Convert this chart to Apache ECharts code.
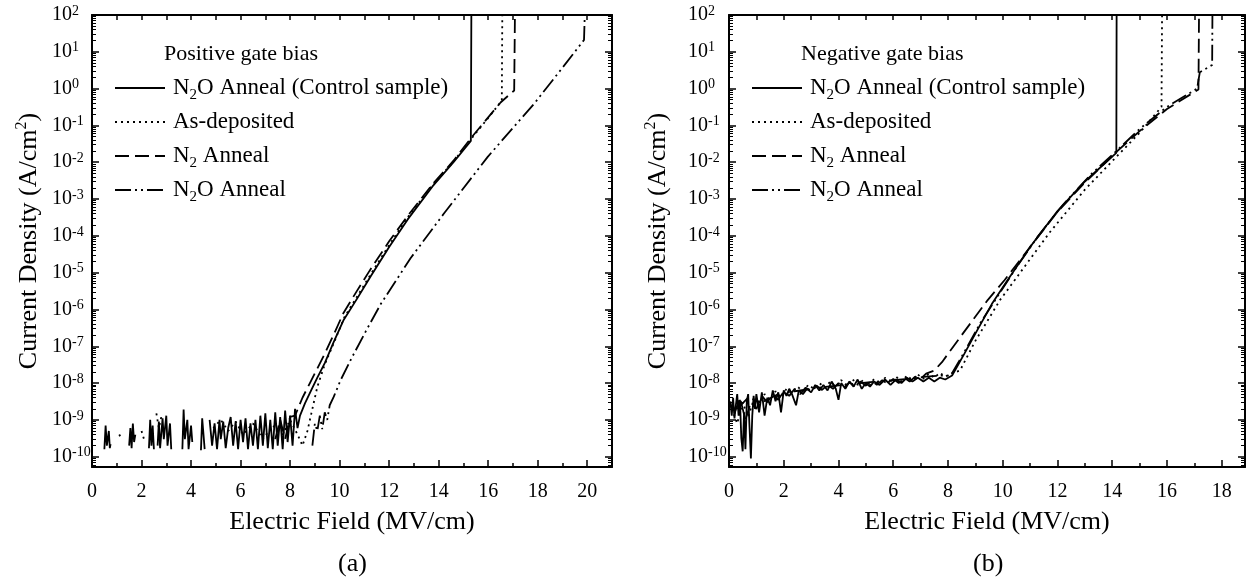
<!DOCTYPE html>
<html>
<head>
    <meta charset="utf-8">
    <title>Current Density vs Electric Field</title>
    <script src="https://cdn.jsdelivr.net/npm/echarts@6/dist/echarts.min.js"></script>
    <style>
        html, body { margin: 0; padding: 0; background: #fff; }
        #main { width: 1248px; height: 582px; }
    </style>
</head>
<body>
    <main id="main"></main>
    <script>
        var FONT = '"Liberation Serif", "Times New Roman", serif';

        var seriesNames = ['N2O Anneal (Control sample)', 'As-deposited', 'N2 Anneal', 'N2O Anneal'];
        var lineTypes = ['solid', [2, 4], [14, 6], [16, 4, 2, 4, 2, 4]];
        var panelTitles = ['Positive gate bias', 'Negative gate bias'];
        var panelTags = ['(a)', '(b)'];
        var xMax = [21, 18.85];
        var xLabelsA = [0, 2, 4, 6, 8, 10, 12, 14, 16, 18, 20];
        var xLabelsB = [0, 2, 4, 6, 8, 10, 12, 14, 16, 18];
        var yDecades = [-10, -9, -8, -7, -6, -5, -4, -3, -2, -1, 0, 1, 2];
        var yMin = -10.28, yMax = 2;

        // (a) positive gate bias, [E (MV/cm), J (A/cm2)], null = gap
        var posControl = [
            [0.5, 1.6e-10], [0.55, 7e-10], [0.6, 2e-10], [0.68, 5e-10], [0.72, 1.7e-10], [0.75, 2.2e-10], [0.8, null],
            [1.5, 2e-10], [1.55, 6e-10], [1.6, 1.7e-10], [1.65, 8e-10], [1.7, 2.5e-10], [1.75, 4e-10], [1.8, null],
            [2.3, 1.7e-10], [2.35, 1e-9], [2.4, 2e-10], [2.45, 7e-10], [2.5, 1.6e-10], [2.55, null],
            [2.65, 2e-10], [2.7, 9e-10], [2.75, 1.7e-10], [2.85, 1.1e-9], [2.9, 3e-10], [3.0, 1.3e-9], [3.05, 2e-10],
            [3.15, 8e-10], [3.2, 1.6e-10], [3.3, null],
            [3.65, 1.6e-10], [3.7, 1.9e-9], [3.75, 3e-10], [3.85, 1e-9], [3.9, 1.6e-10], [4.0, 7e-10], [4.05, 2.5e-10], [4.1, null],
            [4.4, 1.5e-10], [4.45, 1.1e-9], [4.55, 1.6e-10], [4.6, null],
            [4.75, 1e-9], [4.85, 2e-10], [4.95, 8e-10], [5.05, 1.6e-10], [5.15, 1e-9], [5.2, 3e-10], [5.3, 9e-10],
            [5.4, 1.7e-10], [5.5, 6e-10], [5.6, 1.2e-9], [5.7, 2e-10], [5.8, 9e-10], [5.9, 1.6e-10], [6.0, 1e-9],
            [6.1, 2.5e-10], [6.2, 1.1e-9], [6.3, 1.6e-10], [6.4, 8e-10], [6.5, 2e-10], [6.6, 1e-9], [6.7, 1.6e-10],
            [6.8, 1.3e-9], [6.9, 2e-10], [7.0, 1.5e-9], [7.1, 1.7e-10], [7.2, 1e-9], [7.3, 1.6e-10], [7.4, 1.6e-9],
            [7.5, 2e-10], [7.6, 1.2e-9], [7.7, 1.6e-10], [7.8, 1.8e-9], [7.9, 2.5e-10], [8.0, 1.3e-9], [8.1, 2e-10],
            [8.2, 2e-9], [8.3, 6e-10], [8.4, 1.3e-9], [8.6, 2.8e-9], [8.85, 6.3e-9], [9.1, 1.4e-8], [9.4, 3.5e-8],
            [9.75, 1.26e-7], [10.15, 5e-7], [10.75, 2.2e-6], [11.25, 7.9e-6], [12.0, 5e-5], [12.75, 2.8e-4],
            [13.75, 2.2e-3], [14.6, 1e-2], [15.3, 3.8e-2], [15.32, 100]
        ];
        var posAsDep = [
            [1.1, 4e-10], [1.2, 3e-10], [1.3, null], [2.0, 5e-10], [2.1, 3e-10], [2.2, null],
            [2.6, 1.5e-9], [2.7, 6e-10], [2.8, 1.2e-9], [2.9, null],
            [4.9, 6e-10], [5.2, 1e-9], [5.5, 5e-10], [5.8, 9e-10], [6.1, 4e-10], [6.5, 8e-10], [6.9, 3e-10],
            [7.3, 7e-10], [7.7, 4e-10], [8.0, 1e-9], [8.3, 4e-10], [8.5, 2e-10], [8.7, 5e-10], [8.9, 2e-9],
            [9.1, 7.9e-9], [9.4, 3.2e-8], [9.8, 1.4e-7], [10.2, 6.3e-7], [10.75, 2.5e-6], [11.25, 8.9e-6],
            [12.0, 5.6e-5], [12.75, 3.2e-4], [13.75, 2.4e-3], [14.6, 1.05e-2], [15.3, 4.2e-2], [16.0, 1.6e-1],
            [16.55, 4.7e-1], [16.57, 100]
        ];
        var posN2 = [
            [7.4, 3e-10], [7.6, 1e-9], [7.8, 3e-10], [8.0, 1.2e-9], [8.2, 1.3e-9], [8.5, 4e-9], [8.8, 1e-8],
            [9.1, 2.5e-8], [9.4, 6.3e-8], [9.75, 2e-7], [10.15, 7.9e-7], [10.7, 3.2e-6], [11.2, 1.1e-5],
            [12.0, 7.1e-5], [12.75, 3.5e-4], [13.75, 2.5e-3], [14.6, 1.1e-2], [15.3, 4.5e-2], [16.0, 1.66e-1],
            [16.5, 4.2e-1], [17.05, 8.9e-1], [17.08, 100]
        ];
        var posN2O = [
            [8.9, 2e-10], [9.0, 8e-10], [9.1, 5e-10], [9.2, 1.3e-9], [9.3, 5.6e-10], [9.4, 1.6e-9], [9.5, 1e-9],
            [9.6, 2.5e-9], [9.76, 4.2e-9], [10.04, 1.2e-8], [10.5, 5e-8], [11.05, 2.5e-7], [11.66, 1.4e-6],
            [12.87, 2.5e-5], [14.22, 4.1e-4], [15.98, 1.4e-2], [17.87, 4e-1], [19.0, 3.7], [19.87, 21], [19.9, 100]
        ];

        // (b) negative gate bias
        var negControl = [
            [0.05, 3.2e-9], [0.1, 1.3e-9], [0.15, 4e-9], [0.2, 1.1e-9], [0.25, 2.5e-9], [0.3, 5e-9], [0.35, 1.3e-9],
            [0.4, 3.5e-9], [0.45, 3.2e-10], [0.5, 1.4e-10], [0.55, 1.6e-9], [0.6, 1.6e-10], [0.65, 3.2e-9], [0.7, 5e-9],
            [0.75, 6.3e-10], [0.8, 9e-11], [0.85, 1.3e-9], [0.9, 4.5e-9], [0.95, 2e-9], [1.0, 5e-9], [1.1, 1.6e-9],
            [1.2, 5.6e-9], [1.3, 1.3e-9], [1.4, 4e-9], [1.5, 2.5e-9], [1.6, 6.3e-9], [1.7, 3.2e-9], [1.8, 5.6e-9],
            [1.9, 1.6e-9], [2.0, 6.3e-9], [2.1, 4.5e-9], [2.2, 7e-9], [2.3, 5e-9], [2.45, 2.5e-9], [2.55, 6.3e-9],
            [2.7, 5e-9], [2.85, 7e-9], [3.0, 5.6e-9], [3.15, 8.9e-9], [3.3, 6.3e-9], [3.45, 8.9e-9], [3.6, 6.3e-9],
            [3.75, 1.1e-8], [3.9, 7e-9], [4.0, 3.5e-9], [4.1, 1e-8], [4.25, 7e-9], [4.4, 1.1e-8], [4.55, 8e-9],
            [4.7, 1.25e-8], [4.85, 7e-9], [5.0, 1e-8], [5.15, 8e-9], [5.3, 1.1e-8], [5.5, 8.9e-9], [5.7, 1.25e-8],
            [5.9, 8.9e-9], [6.1, 1.25e-8], [6.3, 1e-8], [6.5, 1.4e-8], [6.7, 1.1e-8], [6.9, 1.4e-8], [7.1, 1.1e-8],
            [7.3, 1.4e-8], [7.5, 1.1e-8], [7.7, 1.4e-8], [7.9, 1.25e-8], [8.15, 1.6e-8], [8.6, 6.3e-8], [9.0, 2.2e-7],
            [9.6, 1.4e-6], [10.18, 6.3e-6], [11.0, 5e-5], [11.35, 1.1e-4], [12.0, 4.7e-4], [13.0, 3e-3],
            [14.15, 1.8e-2], [14.16, 100]
        ];
        var negAsDep = [
            [0.1, 2e-9], [0.3, 8e-10], [0.5, 3e-9], [0.7, 1.2e-9], [0.9, 3.5e-9], [1.1, 2.5e-9], [1.3, 5e-9],
            [1.5, 3.5e-9], [1.7, 6e-9], [1.9, 4e-9], [2.1, 7e-9], [2.3, 5.5e-9], [2.5, 8e-9], [2.7, 6e-9], [2.9, 9e-9],
            [3.1, 7e-9], [3.3, 1e-8], [3.5, 7.5e-9], [3.7, 1.1e-8], [3.9, 8e-9], [4.1, 1.2e-8], [4.3, 8.5e-9],
            [4.5, 1.3e-8], [4.7, 9e-9], [4.9, 1.2e-8], [5.1, 8e-9], [5.3, 1.3e-8], [5.5, 9e-9], [5.7, 1.4e-8],
            [5.9, 1e-8], [6.1, 1.5e-8], [6.3, 1.1e-8], [6.5, 1.6e-8], [6.7, 1.2e-8], [6.9, 1.7e-8], [7.1, 1.3e-8],
            [7.3, 1.8e-8], [7.5, 1.4e-8], [7.7, 1.9e-8], [7.9, 1.5e-8], [8.1, 1.8e-8], [8.44, 2.2e-8], [9.0, 1.4e-7],
            [9.9, 1.8e-6], [10.44, 6.3e-6], [11.7, 1.2e-4], [13.0, 1.8e-3], [14.15, 1.4e-2], [15.0, 6.3e-2],
            [15.8, 3.2e-1], [15.82, 100]
        ];
        var negN2 = [
            [0.2, 1.5e-9], [0.4, 4e-9], [0.6, 1e-9], [0.8, 3e-9], [1.0, 2e-9], [1.2, 4.5e-9], [1.4, 3e-9], [1.6, 5e-9],
            [1.8, 3.5e-9], [2.0, 6e-9], [2.2, 4.5e-9], [2.4, 7e-9], [2.6, 5e-9], [2.8, 7.5e-9], [3.0, 6e-9],
            [3.2, 8.5e-9], [3.4, 6.5e-9], [3.6, 9e-9], [3.8, 7e-9], [4.0, 1e-8], [4.2, 7.5e-9], [4.4, 1.05e-8],
            [4.6, 8e-9], [4.8, 1.1e-8], [5.0, 8.5e-9], [5.2, 1.15e-8], [5.4, 9e-9], [5.6, 1.2e-8], [5.8, 9.5e-9],
            [6.0, 1.3e-8], [6.2, 1e-8], [6.4, 1.4e-8], [6.6, 1.1e-8], [6.8, 1.5e-8], [7.0, 1.3e-8], [7.2, 1.8e-8],
            [7.5, 2.2e-8], [7.78, 3.7e-8], [8.5, 2e-7], [9.45, 1.8e-6], [10.07, 6.3e-6], [11.0, 5e-5], [12.0, 4.5e-4],
            [13.0, 2.8e-3], [14.15, 1.9e-2], [15.0, 7e-2], [16.0, 2.8e-1], [17.15, 9.5e-1], [17.17, 100]
        ];
        var negN2O = [
            [0.3, 2e-9], [0.7, 4e-9], [1.2, 3e-9], [1.8, 5e-9], [2.4, 6e-9], [3.0, 7e-9], [3.6, 8e-9], [4.2, 9e-9],
            [4.8, 1e-8], [5.4, 1.1e-8], [6.0, 1.2e-8], [6.6, 1.3e-8], [7.2, 1.5e-8], [7.8, 1.6e-8], [8.1, 1.6e-8],
            [8.6, 7e-8], [9.2, 4.5e-7], [9.8, 2.2e-6], [10.5, 1.4e-5], [11.3, 1e-4], [12.2, 7e-4], [13.2, 4.5e-3],
            [14.15, 2e-2], [15.0, 8e-2], [16.0, 3.2e-1], [17.1, 1], [17.2, 2.8], [17.65, 4.4], [17.66, 100]
        ];

        var panels = [
            { left: 92, width: 520, labels: xLabelsA, series: [posControl, posAsDep, posN2, posN2O], labelMargin: 40, nameGap: 48 },
            { left: 729, width: 516, labels: xLabelsB, series: [negControl, negAsDep, negN2, negN2O], labelMargin: 41, nameGap: 56 }
        ];

        function toLog(pts) {
            return pts.map(function (p) {
                return [p[0], p[1] == null ? '-' : Math.log10(p[1])];
            });
        }

        function range(a, b, step) {
            var out = [];
            for (var v = a; v <= b + 1e-9; v += step) out.push(v);
            return out;
        }

        var yMinor = [];
        for (var n = -11; n <= 1; n++) {
            for (var k = 2; k <= 9; k++) {
                var v = n + Math.log10(k);
                if (v > yMin && v < yMax) yMinor.push(v);
            }
        }

        var axisLineStyle = { onZero: false, lineStyle: { color: '#000', width: 2 } };
        var textBase = { fontFamily: FONT, color: '#000' };

        var grids = [], xAxes = [], yAxes = [], series = [], legends = [], titles = [];

        panels.forEach(function (p, gi) {
            var max = xMax[gi];
            grids.push({ left: p.left, width: p.width, top: 15, bottom: 115, outerBoundsMode: 'none' });

            var xBase = xAxes.length;
            var minorX = range(1, max - 0.5, 2);
            var allX = range(0, Math.floor(max), 1);
            xAxes.push({
                gridIndex: gi, type: 'value', min: 0, max: max, position: 'bottom',
                axisLine: axisLineStyle,
                axisTick: { inside: true, length: 7, customValues: p.labels, lineStyle: { color: '#000', width: 1.5 } },
                axisLabel: Object.assign({ customValues: p.labels, fontSize: 20, margin: 15 }, textBase),
                splitLine: { show: false },
                name: 'Electric Field (MV/cm)', nameLocation: 'middle', nameGap: 42,
                nameTextStyle: Object.assign({ fontSize: 26 }, textBase)
            });
            xAxes.push({
                gridIndex: gi, type: 'value', min: 0, max: max, position: 'bottom',
                axisLine: { show: false, onZero: false },
                axisTick: { inside: true, length: 4, customValues: minorX, lineStyle: { color: '#000', width: 1.5 } },
                axisLabel: { show: false }, splitLine: { show: false }
            });
            xAxes.push({
                gridIndex: gi, type: 'value', min: 0, max: max, position: 'top',
                axisLine: axisLineStyle,
                axisTick: { inside: true, length: 5, customValues: allX, lineStyle: { color: '#000', width: 1.5 } },
                axisLabel: { show: false }, splitLine: { show: false }
            });

            var yBase = yAxes.length;
            ['left', 'right'].forEach(function (side) {
                yAxes.push({
                    gridIndex: gi, type: 'value', min: yMin, max: yMax, position: side,
                    axisLine: axisLineStyle,
                    axisTick: { inside: true, length: 7, customValues: yDecades, lineStyle: { color: '#000', width: 1.5 } },
                    axisLabel: side === 'left' ? Object.assign({
                        customValues: yDecades, fontSize: 20, lineHeight: 22, align: 'left', margin: p.labelMargin,
                        formatter: function (v) { return '10{s|' + Math.round(v) + '}'; },
                        rich: { s: { fontSize: 14, lineHeight: 12, verticalAlign: 'top', fontFamily: FONT, color: '#000' } }
                    }, textBase) : { show: false },
                    splitLine: { show: false },
                    name: side === 'left' ? 'Current Density (A/cm{s|2})' : '',
                    nameLocation: 'middle', nameGap: p.nameGap,
                    nameTextStyle: Object.assign({
                        fontSize: 26, lineHeight: 30,
                        rich: { s: { fontSize: 16, lineHeight: 16, verticalAlign: 'top', fontFamily: FONT, color: '#000' } }
                    }, textBase)
                });
                yAxes.push({
                    gridIndex: gi, type: 'value', min: yMin, max: yMax, position: side,
                    axisLine: { show: false, onZero: false },
                    axisTick: { inside: true, length: 4, customValues: yMinor, lineStyle: { color: '#000', width: 1 } },
                    axisLabel: { show: false }, splitLine: { show: false }
                });
            });

            p.series.forEach(function (pts, si) {
                series.push({
                    name: seriesNames[si], type: 'line',
                    xAxisIndex: xBase, yAxisIndex: yBase,
                    data: toLog(pts),
                    symbol: 'none', showSymbol: false,
                    lineStyle: { color: '#000', width: 1.8, type: lineTypes[si] },
                    itemStyle: { color: '#000' },
                    animation: false
                });
            });

            legends.push({
                data: seriesNames, orient: 'vertical', left: p.left + 22, top: 73,
                itemWidth: 50, itemHeight: 12, itemGap: 4, padding: 0, selectedMode: false,
                itemStyle: { opacity: 0 },
                formatter: function (name) { return name.replace('N2', 'N{sub|2}'); },
                textStyle: Object.assign({
                    fontSize: 23, lineHeight: 30, padding: [0, 0, 0, 3],
                    rich: { sub: { fontSize: 15, lineHeight: 16, verticalAlign: 'bottom', fontFamily: FONT, color: '#000' } }
                }, textBase)
            });

            titles.push({
                text: panelTitles[gi], left: p.left + 72, top: 43, padding: 0,
                textStyle: Object.assign({ fontSize: 22, fontWeight: 'normal' }, textBase)
            });
            titles.push({
                text: panelTags[gi], left: p.left + p.width / 2 - 14, top: 551, padding: 0,
                textStyle: Object.assign({ fontSize: 26, fontWeight: 'normal' }, textBase)
            });
        });

        var chart = echarts.init(document.getElementById('main'));
        chart.setOption({
            animation: false,
            backgroundColor: '#fff',
            title: titles,
            legend: legends,
            grid: grids,
            xAxis: xAxes,
            yAxis: yAxes,
            series: series
        });
    </script>
</body>
</html>
